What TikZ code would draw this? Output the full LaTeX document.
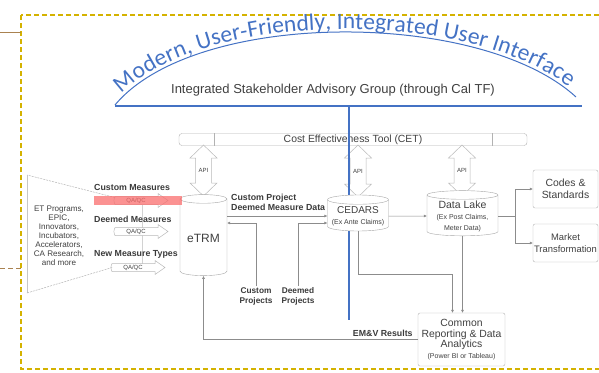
\documentclass[tikz,border=0pt]{standalone}
\usepackage{fontspec}
\setmainfont{Liberation Sans}
\newfontfamily\arcfont{Carlito}
\usetikzlibrary{shapes.geometric,arrows.meta,decorations.text,calc}

\definecolor{uiblue}{RGB}{68,114,196}
\definecolor{frame}{RGB}{212,178,0}
\definecolor{lead}{RGB}{170,130,80}
\definecolor{ink}{RGB}{64,64,64}
\definecolor{flag}{RGB}{250,110,110}
\newcommand\subtxt{\fontsize{7}{8}\selectfont}

\tikzset{
  db/.style={cylinder, shape border rotate=90, draw=gray!70, fill=white, align=center, text=ink, inner sep=1pt},
  box/.style={draw=gray!60, rounded corners=2pt, fill=white, align=center, text=ink, inner sep=1pt},
  lbl/.style={font=\bfseries\fontsize{8.8}{10}\selectfont, text=ink!90!black, align=left, inner sep=1pt},
  conn/.style={draw=gray!90, line width=0.5pt, -{Latex[length=3pt,width=3pt]}},
  api/.style={draw=gray!55, fill=white, line width=0.5pt},
  tiny/.style={font=\fontsize{6}{7}\selectfont, text=ink, inner sep=0pt}
}

\begin{document}
\begin{tikzpicture}[x=1pt,y=-1pt]
\useasboundingbox (0,0) rectangle (599,372);
% frame and leads
\draw[frame, line width=1.5pt, dash pattern=on 5pt off 3pt] (21,15) rectangle (640,369);
\coordinate (leadA) at (0,32);
\coordinate (leadB) at (0,268);
\draw[lead, line width=1pt] (leadA) -- (leadA -| 21,0);
\draw[lead, line width=1pt, dash pattern=on 5pt off 3pt] (leadB) -- (leadB -| 21,0);

% user interface arc
\coordinate (arcL) at (115,105);
\coordinate (arcR) at (576,97);
\draw[uiblue, line width=1pt] (arcL) .. controls (195,9) and (480,9) .. (arcR);
\path[decorate, decoration={text along path, text align=center, raise=3pt,
  text={|\arcfont\fontsize{23.5}{24}\selectfont\color{uiblue}|Modern, User-Friendly, Integrated User Interface}}]
  (arcL) .. controls (195,9) and (480,9) .. (arcR);
\coordinate (baseL) at (115,106);
\coordinate (baseR) at (582,106);
\draw[uiblue, line width=1.2pt] (baseL) -- (baseR);
\node[font=\fontsize{13}{15}\selectfont, text=ink] (isag) at (333,90) {Integrated Stakeholder Advisory Group (through Cal TF)};

% CET bar
\node[box, rounded corners=3pt, minimum width=348pt, minimum height=12pt, font=\fontsize{10.4}{11}\selectfont] (cet) at (353,139.5) {Cost Effectiveness Tool (CET)};
\draw[gray!60] (cet.north -| 214,0) -- (cet.south -| 214,0);
\draw[gray!60] (cet.north -| 492,0) -- (cet.south -| 492,0);

% API arrows
\foreach \n/\c/\t/\b in {etrm/203.5/145/196, cedars/358/145/197, lake/462/145/196}{
  \draw[api] (\c,\t) -- ++(13.5,13) -- ++(-5.5,0) -- (\c+8,\b-13) -- ++(5.5,0) -- (\c,\b)
    -- ++(-13.5,-13) -- ++(5.5,0) -- (\c-8,\t+13) -- ++(-5.5,0) -- cycle;
  \node[tiny] (api\n) at (\c,{(\t+\b)/2}) {API};
}

\coordinate (spineTop) at (349,106);
\coordinate (spineEnd) at (349,320);
\draw[uiblue, line width=1.6pt] (spineTop) -- (spineEnd);

% data stores
\node[db, aspect=0.25, minimum width=47pt, minimum height=81pt, font=\fontsize{12}{14}\selectfont] (etrm) at (203.5,238) {eTRM};
\node[db, aspect=0.17, minimum width=61pt, minimum height=36pt, font=\fontsize{10}{11}\selectfont] (cedars) at (358,216) {CEDARS\\\subtxt (Ex Ante Claims)};
\node[db, aspect=0.16, minimum width=71pt, minimum height=38pt, font=\fontsize{10.5}{11}\selectfont] (lake) at (462.5,216) {Data Lake\\\subtxt (Ex Post Claims,\\\subtxt Meter Data)};

\node[box, minimum width=65pt, minimum height=38pt, font=\fontsize{10.4}{12}\selectfont] (codes) at (565.5,189) {Codes \&\\Standards};
\node[box, minimum width=65pt, minimum height=38pt, inner sep=0pt, font=\fontsize{9.4}{11.5}\selectfont] (market) at (565.5,243) {Market\\Transformation};
\node[box, minimum width=87pt, minimum height=53pt, font=\fontsize{10.4}{10.8}\selectfont] (report) at (461.5,339.5) {Common\\Reporting \& Data\\Analytics\\\subtxt (Power BI or Tableau)};

% flows
\node[lbl, anchor=west] (cpdata) at (230,202) {Custom Project\\Deemed Measure Data};
\draw[conn] (etrm.east |- cedars.west) -- (cedars.west);
\node[lbl, align=center, font=\bfseries\fontsize{8.3}{10}\selectfont] (cproj) at (256,296) {Custom\\Projects};
\node[lbl, align=center, font=\bfseries\fontsize{8.3}{10}\selectfont] (dproj) at (298,296) {Deemed\\Projects};
\draw[conn] (cproj.north) |- ($(etrm.east |- cedars.west)+(0,7)$);
\draw[conn] (dproj.north) |- ($(cedars.west)+(0,7)$);
\draw[conn] (cedars.east) -- (lake.west);
\draw[conn] (lake.east) -- ++(17,0) |- (codes.west);
\draw[conn] (lake.east) -- ++(17,0) |- (market.west);
\draw[conn] (cedars.south) |- ($(report.north)+(-9,-39)$) -- ($(report.north)+(-9,0)$);
\draw[conn] (lake.south) -- (lake.south |- report.north);
\draw[conn] (report.west) -| (etrm.south);
\node[lbl, anchor=south east] (emv) at ($(report.west)+(-4,-2)$) {EM\&V Results};

% measure sources
\coordinate (srcTL) at (27,175);
\coordinate (srcBL) at (27,293);
\draw[gray!35, line width=0.5pt] (142,205) -- (142,270);
\foreach \n/\x/\y in {qcA/115/200.5, qcB/115/231.5, qcC/112/267.5}{
  \coordinate (\n) at (\x,\y);
  \draw[api] (\x,\y-4) -- (\x+43,\y-4) -- (\x+43,\y-7) -- (\x+53,\y) -- (\x+43,\y+7)
    -- (\x+43,\y+4) -- (\x,\y+4) .. controls (\x-1.5,\y) .. (\x,\y-4) -- cycle;
  \node[tiny] (\n-t) at (\x+21,\y) {QA/QC};
}
\draw[gray!60, line width=0.5pt, dash pattern=on 2pt off 1pt] (qcA) ++(0,-3) -- (srcTL);
\draw[gray!45, line width=0.5pt] (srcTL) -- (srcBL);
\draw[gray!60, line width=0.5pt, dash pattern=on 2pt off 1pt] (srcBL) -- (qcC);
\node[font=\fontsize{8.1}{9}\selectfont, text=ink, align=center] (src) at (59,236) {ET Programs,\\EPIC,\\Innovators,\\Incubators,\\Accelerators,\\CA Research,\\and more};
\node[lbl, anchor=west] (cmeas) at (93,187) {Custom Measures};
\node[lbl, anchor=west] (dmeas) at (93,219) {Deemed Measures};
\node[lbl, anchor=west] (nmeas) at (93,254) {New Measure Types};
\fill[flag, opacity=0.75] (94,196) rectangle (182,205);
\end{tikzpicture}
\end{document}
